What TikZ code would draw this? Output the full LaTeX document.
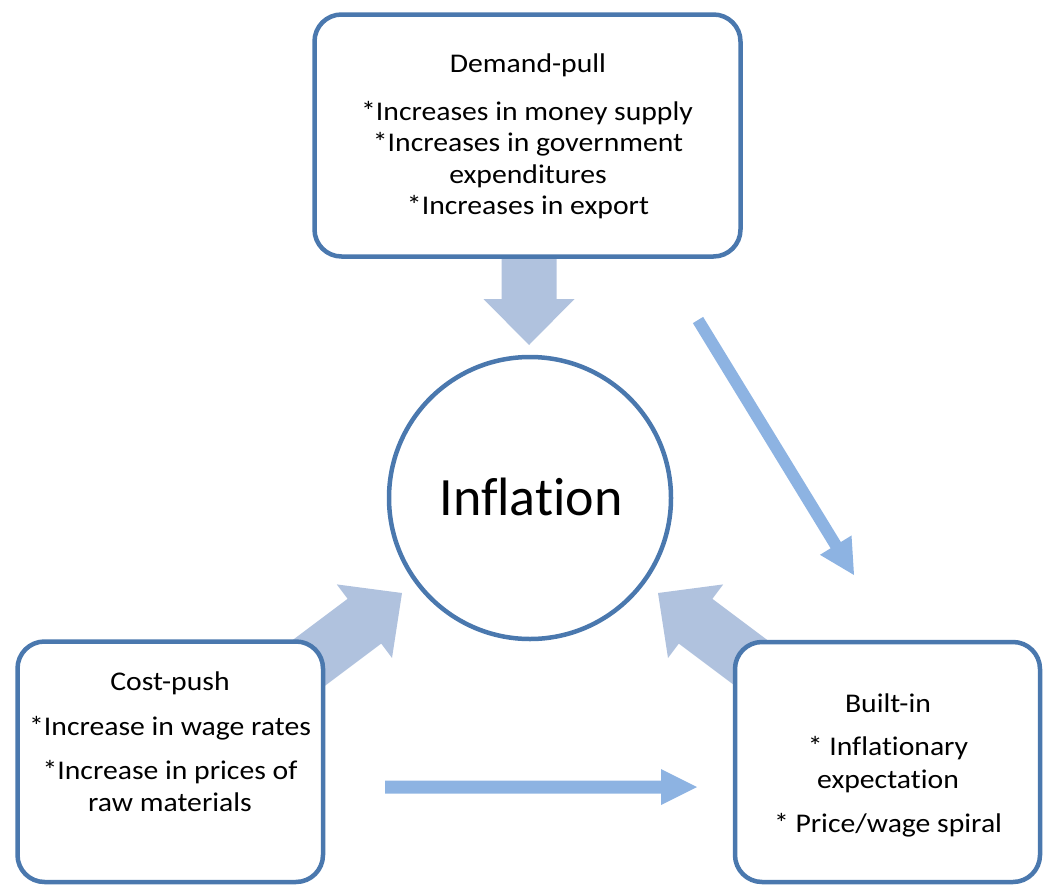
\documentclass[tikz,border=0pt]{standalone}
\usepackage{fontspec}
\setmainfont{Carlito}[Ligatures=NoCommon, FakeStretch=1.1]
\newfontfamily\hubfont{Carlito}[Ligatures=NoCommon]
\usetikzlibrary{calc}

\definecolor{edgeblue}{RGB}{74,120,174}
\definecolor{fatblue}{RGB}{176,194,222}
\definecolor{thinblue}{RGB}{141,179,226}

% Block arrow as one filled outline:
% #1 fill style, #2 tail, #3 tip, #4 half shaft width, #5 half head width, #6 head length
\newcommand\blockarrow[6]{%
  \coordinate (#2-base) at ($(#3)!#6!(#2)$);
  \fill[#1] ($(#2)!#4!90:(#3)$) -- ($(#2-base)!#4!-90:(#2)$)
    -- ($(#2-base)!#5!-90:(#2)$) -- (#3) -- ($(#2-base)!#5!90:(#2)$)
    -- ($(#2-base)!#4!90:(#2)$) -- ($(#2)!#4!-90:(#3)$) -- cycle;
}

\begin{document}
\begin{tikzpicture}[x=1pt,y=-1pt,
  causebox/.style={draw=edgeblue, line width=4.5pt, fill=white,
    rounded corners=27pt, inner sep=0pt},
  hub/.style={draw=edgeblue, line width=4.5pt, fill=white, circle,
    inner sep=0pt, minimum size=282pt},
  line/.style={anchor=base, inner sep=0pt, font=\fontsize{27}{32}\selectfont},
  fat/.style={fill=fatblue},
  thin/.style={fill=thinblue},
]
\useasboundingbox (0,0) rectangle (1044,886);

% arrow end points
\coordinate (dpTail) at (529,240);
\coordinate (dpTip)  at (529,345);
\coordinate (cpTail) at (282,683);
\coordinate (cpTip)  at (402,593);
\coordinate (biTail) at (778,683);
\coordinate (biTip)  at (658,593);
\coordinate (dgTail) at (698,320);
\coordinate (dgTip)  at (854,575);
\coordinate (hzTail) at (385,787);
\coordinate (hzTip)  at (697,787);

% wide arrows into the centre
\blockarrow{fat}{dpTail}{dpTip}{27.5pt}{45.5pt}{46pt}
\blockarrow{fat}{cpTail}{cpTip}{28pt}{46pt}{47pt}
\blockarrow{fat}{biTail}{biTip}{28pt}{46pt}{47pt}

% slim arrows towards Built-in
\blockarrow{thin}{dgTail}{dgTip}{6pt}{18.5pt}{35pt}
\blockarrow{thin}{hzTail}{hzTip}{6.5pt}{18pt}{36pt}

% boxes
\node[causebox, minimum width=426pt, minimum height=242pt] (demand) at (527.5,135.5) {};
\node[causebox, minimum width=305.5pt, minimum height=240.5pt] (cost) at (170.25,761.75) {};
\node[causebox, minimum width=305pt, minimum height=240pt] (built) at (887.5,762) {};
\node[hub] (infl) at (530,498) {};

% centre label
\node[anchor=base, inner sep=0pt, font=\hubfont\fontsize{54}{64}\selectfont] (inflText) at (531,515) {Inflation};

% Demand-pull text
\node[line] (dp1) at (528,72)    {Demand-pull};
\node[line] (dp2) at (527,120)   {*Increases in money supply};
\node[line] (dp3) at (528,151.5) {*Increases in government};
\node[line] (dp4) at (528,183)   {expenditures};
\node[line] (dp5) at (528,214)   {*Increases in export};

% Cost-push text
\node[line] (cp1) at (170,690) {Cost-push};
\node[line] (cp2) at (170,735) {*Increase in wage rates};
\node[line] (cp3) at (170,779) {*Increase in prices of};
\node[line] (cp4) at (170,811) {raw materials};

% Built-in text
\node[line] (bi1) at (888,712) {Built-in};
\node[line] (bi2) at (888,755) {* Inflationary};
\node[line] (bi3) at (888,788) {expectation};
\node[line] (bi4) at (888,832) {* Price/wage spiral};
\end{tikzpicture}
\end{document}
